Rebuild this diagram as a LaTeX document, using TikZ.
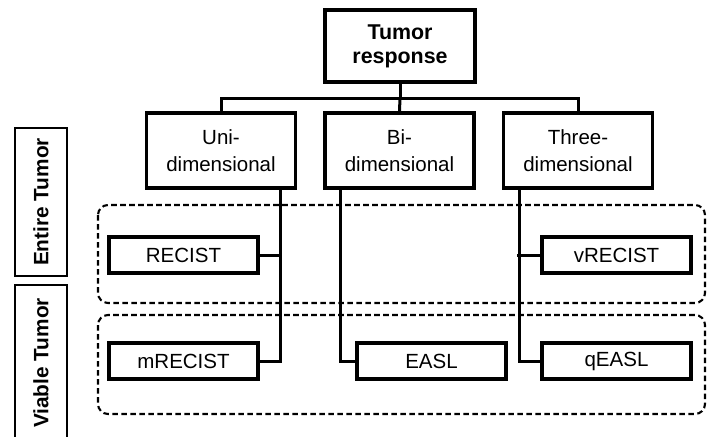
\documentclass[tikz,border=0pt]{standalone}
\usepackage{fontspec}
\setmainfont{Liberation Sans}
\tikzset{
  box/.style={draw, line width=1.8pt, align=center, inner sep=0pt,
    font=\fontsize{10.25}{13.35}\selectfont},
  topbox/.style={box, minimum width=75pt, minimum height=36pt,
    font=\bfseries\fontsize{10.7}{11.9}\selectfont},
  dimbox/.style={box, minimum width=74.5pt, minimum height=37.5pt},
  critbox/.style={box, minimum width=74.5pt, minimum height=18.25pt},
  sidebox/.style={box, rotate=90, minimum height=26pt, line width=1.4pt,
    font=\bfseries\fontsize{10.4}{12}\selectfont},
  link/.style={line width=1.5pt},
  zone/.style={line width=1.05pt, dash pattern=on 2.8pt off 1.7pt, rounded corners=5pt}
}
\begin{document}
\begin{tikzpicture}[x=0.5pt, y=-0.5pt]
    \useasboundingbox (0,0) rectangle (707,436);

    %% the two dashed zones
    \draw[zone] (98,205) rectangle (705,303);
    \draw[zone] (98,315) rectangle (705,414);

    \node[topbox] (resp) at (400,46) {Tumor\\response};
    \node[dimbox] (uni) at (221,150.5) {Uni-\\dimensional};
    \node[dimbox] (bi) at (399.5,150.5) {Bi-\\dimensional};
    \node[dimbox] (three) at (578,150.5) {Three-\\dimensional};

    \node[critbox] (recist) at (183.5,255) {RECIST};
    \node[critbox] (vrecist) at (616.5,255) {vRECIST};
    \node[critbox] (mrecist) at (183.5,361) {mRECIST};
    \node[critbox] (easl) at (431.5,361) {EASL};
    \node[critbox] (qeasl) at (616.5,361) {qEASL};

    \node[sidebox, minimum width=74pt] (entire) at (41,202) {Entire Tumor};
    \node[sidebox, minimum width=78pt] (viable) at (41,363) {Viable Tumor};

    %% tree lines
    \coordinate (bar) at (400,98);
    \draw[link] (resp.south) -- (bar);
    \draw[link] (uni.north) |- (bar) -| (three.north);
    \draw[link] (bar) -- (bi.north);

    \draw[link] ([xshift=29.5pt]uni.south) |- (mrecist.east);
    \draw[link] (recist.east) -- ++(11pt,0);
    \draw[link] ([xshift=-29.75pt]bi.south) |- (easl.west);
    \draw[link] ([xshift=-29.5pt]three.south) |- (qeasl.west);
    \draw[link] (vrecist.west) -- ++(-11.5pt,0);
\end{tikzpicture}
\end{document}
